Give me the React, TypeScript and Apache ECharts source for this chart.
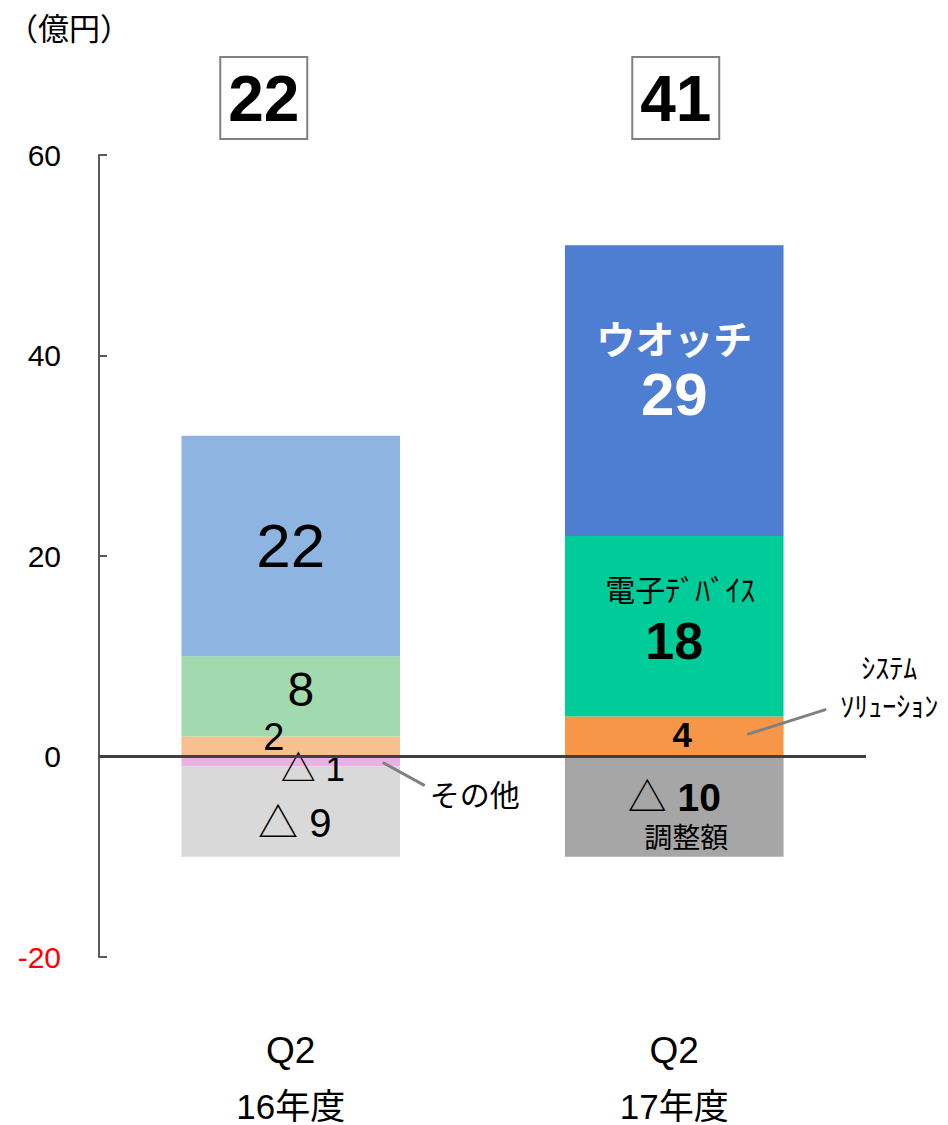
import React, { useEffect, useRef } from 'react';
import * as echarts from 'echarts';

const categories = ['Q2\n16年度', 'Q2\n17年度'];
const systemSolutions = [2, 4];
const electronicDevices = [8, 18];
const watches = [22, 29];
const others: (number | null)[] = [-1, null];
const adjustments = [-9, -10];
const yMin = -20;
const yMax = 60;
const yStep = 20;
const unitLabel = '（億円）';
const watchName = 'ウオッチ';
const deviceName = '電子ﾃﾞﾊﾞｲｽ';
const adjustName = '調整額';
const otherName = 'その他';
const sysName = ['ｼｽﾃﾑ', 'ｿﾘｭｰｼｮﾝ'];

const FONT = '"Liberation Sans", Arial, "Noto Sans CJK JP", sans-serif';
const CJK = '"Noto Sans CJK JP", "Liberation Sans", sans-serif';

const colors = {
  orange: ['#F9C08F', '#F79646'],
  green: ['#A2DAB0', '#00CC99'],
  blue: ['#8EB4E2', '#4E7ED1'],
  pink: ['#E8B2E3', '#E8B2E3'],
  gray: ['#D9D9D9', '#A6A6A6'],
};

const tri = (v: number) => `△ ${Math.abs(v)}`;

function build(values: (number | null)[], cols: string[], labels: any[]) {
  return values.map((v, i) =>
    v === null
      ? '-'
      : {
          value: v,
          itemStyle: { color: cols[i] },
          label: { show: true, position: 'inside', fontFamily: FONT, color: '#000', ...labels[i] },
        }
  );
}

export default function App() {
  const ref = useRef<HTMLDivElement>(null);
  useEffect(() => {
    document.body.style.margin = '0';
    const chart = echarts.init(ref.current!, undefined, { renderer: 'svg', width: 948, height: 1125 });
    const totals = categories.map(
      (_, i) => systemSolutions[i] + electronicDevices[i] + watches[i] + (others[i] ?? 0) + adjustments[i]
    );
    const base = { type: 'bar', stack: 'total', barWidth: '57%' };
    chart.setOption({
      animation: false,
      title: {
        text: unitLabel,
        left: 2,
        top: 6,
        textStyle: { fontSize: 31, fontWeight: 'normal', color: '#000', fontFamily: CJK },
      },
      grid: { left: 99, right: 82, top: 155, bottom: 168, containLabel: false, outerBoundsMode: 'none' },
      xAxis: {
        type: 'category',
        data: categories,
        axisLine: { show: false },
        axisTick: { show: false },
        axisLabel: {
          margin: 53,
          fontFamily: FONT,
          color: '#000',
          formatter: (val: string) => {
            const [a, b] = val.split('\n');
            return `{q|${a}}\n{y|${b}}`;
          },
          rich: {
            q: { fontSize: 37, lineHeight: 80, color: '#000', fontFamily: FONT },
            y: { fontSize: 35, lineHeight: 32, color: '#000', fontFamily: FONT },
          },
        },
      },
      yAxis: {
        type: 'value',
        min: yMin,
        max: yMax,
        interval: yStep,
        splitLine: { show: false },
        axisLine: { show: true, lineStyle: { color: '#595959', width: 2 } },
        axisTick: { show: true, inside: true, length: 8, lineStyle: { color: '#595959', width: 2 } },
        axisLabel: {
          fontSize: 30,
          margin: 38,
          fontFamily: FONT,
          color: (v: any) => (Number(v) < 0 ? '#FF0000' : '#000'),
        },
      },
      series: [
        {
          ...base,
          name: 'system',
          data: build(systemSolutions, colors.orange, [
            { fontSize: 38, offset: [-17, -9] },
            { fontSize: 35, fontWeight: 'bold', offset: [8, -2] },
          ]),
          markLine: {
            silent: true,
            symbol: 'none',
            label: { show: false },
            lineStyle: { color: '#404040', width: 3, type: 'solid' },
            data: [{ yAxis: 0 }],
            z: 10,
          },
        },
        {
          ...base,
          name: 'devices',
          data: build(electronicDevices, colors.green, [
            { fontSize: 48, offset: [10, -7] },
            {
              offset: [0, -12],
              formatter: (p: any) => `{a|${deviceName}}\n{b|${p.value}}`,
              rich: {
                a: { fontSize: 30, lineHeight: 53, color: '#000', fontFamily: CJK, padding: [0, 0, 0, 12] },
                b: { fontSize: 52, lineHeight: 53, fontWeight: 'bold', color: '#000', fontFamily: FONT },
              },
            },
          ]),
        },
        {
          ...base,
          name: 'watch',
          data: build(watches, colors.blue, [
            { fontSize: 62 },
            {
              offset: [0, -25],
              formatter: (p: any) => `{a|${watchName}}\n{b|${p.value}}`,
              rich: {
                a: { fontSize: 39, lineHeight: 58, fontWeight: 'bold', color: '#fff', fontFamily: CJK },
                b: { fontSize: 60, lineHeight: 58, fontWeight: 'bold', color: '#fff', fontFamily: FONT },
              },
            },
          ]),
        },
        {
          ...base,
          name: 'other',
          data: build(others, colors.pink, [
            { fontSize: 35, offset: [22, 7], formatter: (p: any) => tri(p.value) },
            {},
          ]),
        },
        {
          ...base,
          name: 'adjust',
          data: build(adjustments, colors.gray, [
            { fontSize: 40, offset: [4, 11], formatter: (p: any) => tri(p.value) },
            {
              offset: [0, 10],
              formatter: (p: any) => `{t|△ }{n|${Math.abs(p.value)}}\n{s|${adjustName}}`,
              rich: {
                t: { fontSize: 39, lineHeight: 38, color: '#000', fontFamily: FONT },
                n: { fontSize: 39, lineHeight: 38, fontWeight: 'bold', color: '#000', fontFamily: FONT },
                s: { fontSize: 28, lineHeight: 38, color: '#000', fontFamily: CJK, padding: [0, 0, 0, 24] },
              },
            },
          ]),
        },
      ],
    });

    const px = (i: number, v: number) => chart.convertToPixel({ gridIndex: 0 }, [i, v]) as number[];
    const boxShift = [-27, 1.5];
    const graphics: any[] = [];
    totals.forEach((t, i) => {
      const cx = px(i, 0)[0] + boxShift[i];
      graphics.push({
        type: 'rect',
        z: 100,
        shape: { x: cx - 43.5, y: 57, width: 87, height: 82 },
        style: { fill: '#fff', stroke: '#808080', lineWidth: 2 },
      });
      graphics.push({
        type: 'text',
        z: 101,
        x: cx,
        y: 99,
        style: {
          text: String(t),
          align: 'center',
          verticalAlign: 'middle',
          fontSize: 64,
          fontWeight: 'bold',
          fontFamily: FONT,
          fill: '#000',
        },
      });
    });
    const a1 = px(0, -0.6);
    const a2 = px(0, -2.9);
    graphics.push({
      type: 'line',
      z: 100,
      shape: { x1: a1[0] + 92, y1: a1[1], x2: a2[0] + 134, y2: a2[1] },
      style: { stroke: '#808080', lineWidth: 3 },
    });
    const a3 = px(0, -3.6);
    graphics.push({
      type: 'text',
      z: 100,
      x: a3[0] + 139,
      y: a3[1],
      style: { text: otherName, align: 'left', verticalAlign: 'middle', fontSize: 30, fontFamily: CJK, fill: '#000' },
    });
    const b1 = px(1, 2.2);
    const b2 = px(1, 4.7);
    graphics.push({
      type: 'line',
      z: 100,
      shape: { x1: b1[0] + 73, y1: b1[1], x2: b2[0] + 152, y2: b2[1] },
      style: { stroke: '#808080', lineWidth: 3 },
    });
    const sysY = [px(1, 8.9)[1], px(1, 5.1)[1]];
    sysName.forEach((s, k) => {
      graphics.push({
        type: 'text',
        z: 100,
        x: b1[0] + 215,
        y: sysY[k],
        style: {
          text: s,
          align: 'center',
          verticalAlign: 'middle',
          fontSize: 28,
          fontFamily: CJK,
          fill: '#000',
        },
      });
    });
    chart.setOption({ graphic: graphics });
    return () => chart.dispose();
  }, []);
  return <div ref={ref} style={{ width: 948, height: 1125 }} />;
}
